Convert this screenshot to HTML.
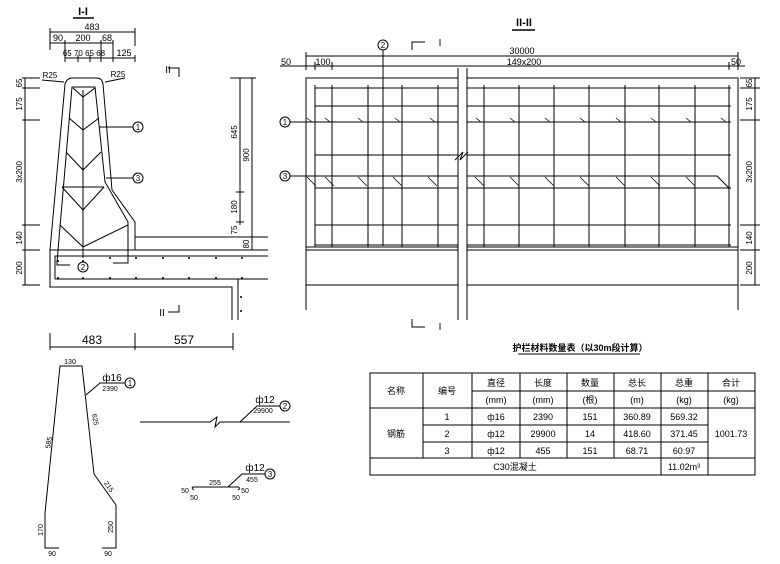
<!DOCTYPE html>
<html><head><meta charset="utf-8"><style>
html,body{margin:0;padding:0;background:#fff;}
svg{display:block;}
text{font-family:"Liberation Sans Narrow","Liberation Sans","Noto Sans CJK SC",sans-serif;fill:#000;}
</style></head><body>
<svg width="780" height="564" viewBox="0 0 780 564" xmlns="http://www.w3.org/2000/svg">
<g stroke="#000" stroke-width="1" fill="none">
<!-- ===== Section I-I ===== -->
<line x1="73" y1="18" x2="94" y2="18" stroke-width="1.5"/>
<line x1="50" y1="32" x2="135" y2="32"/><line x1="50" y1="28" x2="50" y2="50"/><line x1="135" y1="28" x2="135" y2="46"/>
<line x1="50" y1="43" x2="113" y2="43"/><line x1="65" y1="40" x2="65" y2="62"/><line x1="101" y1="40" x2="101" y2="62"/><line x1="113" y1="40" x2="113" y2="62"/>
<line x1="65" y1="58" x2="135" y2="58"/><line x1="78" y1="55" x2="78" y2="62"/><line x1="90" y1="55" x2="90" y2="62"/><line x1="135" y1="55" x2="135" y2="62"/>
<!-- concrete outline -->
<path d="M50,250 L65,84 Q67,78 72,78 L97,78 Q102,78 103,84 L112,190 L135,222 L135,250"/>
<line x1="42" y1="80" x2="64" y2="82"/><line x1="105" y1="82" x2="125" y2="78"/>
<line x1="50" y1="250" x2="268" y2="250"/>
<line x1="135" y1="237" x2="268" y2="237"/>
<path d="M50,250 L50,287 L232,287 L232,320"/>
<path d="M55,279 L55,256 L268,256"/>
<path d="M55,279 L238,279 L238,320"/>
<line x1="55" y1="279" x2="268" y2="279"/>
<!-- rebar -->
<path d="M57,262 L72,87 L95,87 L105,182 L128,222 L128,263 L113,263"/>
<path d="M57,262 L57,265 L70,265"/>
<line x1="83" y1="90" x2="83" y2="258"/>
<path d="M73,88 L83,97 L95,88"/>
<path d="M69,118 L83,130 L99,118"/>
<path d="M66,152 L83,170 L101,152"/>
<line x1="62" y1="187" x2="104" y2="187"/>
<path d="M62,187 L83,210 L104,187"/>
<path d="M60,225 L83,247 L128,225"/>
<line x1="99" y1="127" x2="133" y2="127"/>
<line x1="106" y1="178" x2="133" y2="178"/>
<circle cx="138" cy="127" r="5"/><circle cx="138" cy="178" r="5"/><circle cx="83" cy="267" r="5"/>
<!-- left dims -->
<line x1="25" y1="78" x2="25" y2="285"/>
<g><line x1="22" y1="78" x2="40" y2="78"/><line x1="22" y1="88" x2="40" y2="88"/><line x1="22" y1="120" x2="40" y2="120"/><line x1="22" y1="225" x2="40" y2="225"/><line x1="22" y1="250" x2="40" y2="250"/><line x1="22" y1="285" x2="40" y2="285"/></g>
<!-- right dims -->
<line x1="240" y1="78" x2="240" y2="225"/><line x1="252" y1="78" x2="252" y2="250"/>
<line x1="230" y1="78" x2="256" y2="78"/><line x1="236" y1="192" x2="244" y2="192"/><line x1="236" y1="222" x2="244" y2="222"/><line x1="236" y1="237" x2="256" y2="237"/>
<path d="M168,68 L179,68 L179,77"/><path d="M168,312 L179,312 L179,305"/>
<!-- ===== Section II-II ===== -->
<line x1="512" y1="30" x2="535" y2="30" stroke-width="1.5"/>
<line x1="306" y1="56" x2="738" y2="56"/>
<line x1="280" y1="66" x2="745" y2="66"/>
<line x1="306" y1="52" x2="306" y2="70"/><line x1="738" y1="52" x2="738" y2="70"/>
<line x1="315" y1="62" x2="315" y2="70"/><line x1="332" y1="62" x2="332" y2="70"/><line x1="729" y1="62" x2="729" y2="70"/>
<rect x="306" y="78" width="432" height="172"/>
<line x1="306" y1="247" x2="738" y2="247"/>
<line x1="306" y1="285" x2="738" y2="285"/>
<line x1="306" y1="250" x2="306" y2="310"/><line x1="738" y1="250" x2="738" y2="310"/>
<g>
<line x1="315" y1="88" x2="731" y2="88"/><line x1="315" y1="106" x2="731" y2="106"/><line x1="280" y1="122" x2="731" y2="122"/>
<line x1="315" y1="155" x2="731" y2="155"/><line x1="315" y1="188" x2="731" y2="188"/><line x1="315" y1="225" x2="731" y2="225"/><line x1="315" y1="245" x2="731" y2="245"/>
<path d="M280,176 L717,176 L729,188"/>
</g>
<g>
<line x1="315" y1="85" x2="315" y2="247"/><line x1="332" y1="85" x2="332" y2="247"/><line x1="368" y1="85" x2="368" y2="247"/><line x1="402" y1="85" x2="402" y2="247"/><line x1="438" y1="85" x2="438" y2="247"/>
<line x1="484" y1="85" x2="484" y2="247"/><line x1="519" y1="85" x2="519" y2="247"/><line x1="554" y1="85" x2="554" y2="247"/><line x1="589" y1="85" x2="589" y2="247"/><line x1="625" y1="85" x2="625" y2="247"/><line x1="659" y1="85" x2="659" y2="247"/><line x1="695" y1="85" x2="695" y2="247"/><line x1="729" y1="85" x2="729" y2="247"/>
</g>
<line x1="383" y1="50" x2="383" y2="246"/>
<g stroke-width="0.8">
<path d="M307,118 l5,4 M325,118 l5,4 M358,118 l5,4 M395,118 l5,4 M430,118 l5,4 M476,118 l5,4 M510,118 l5,4 M545,118 l5,4 M580,118 l5,4 M616,118 l5,4 M651,118 l5,4 M686,118 l5,4 M721,118 l5,4"/>
<path d="M307,177 l9,9 M325,177 l9,9 M358,177 l9,9 M393,177 l9,9 M428,177 l9,9 M475,177 l9,9 M510,177 l9,9 M545,177 l9,9 M580,177 l9,9 M616,177 l9,9 M651,177 l9,9 M686,177 l9,9"/>
</g>
<rect x="458" y="67" width="9" height="254" fill="#fff" stroke="none"/>
<line x1="458" y1="68" x2="458" y2="320"/><line x1="467" y1="68" x2="467" y2="320"/>
<path d="M455,160 L463,152 L460,160 L468,152" fill="none"/>
<circle cx="383" cy="45" r="5"/><circle cx="285" cy="122" r="5" fill="#fff"/><circle cx="285" cy="176" r="5" fill="#fff"/>
<path d="M412,50 L412,42 L425,42"/><path d="M412,319 L412,327 L425,327"/>
<line x1="755" y1="78" x2="755" y2="285"/>
<line x1="740" y1="78" x2="760" y2="78"/><line x1="740" y1="88" x2="760" y2="88"/><line x1="740" y1="120" x2="760" y2="120"/><line x1="740" y1="225" x2="760" y2="225"/><line x1="740" y1="250" x2="760" y2="250"/><line x1="740" y1="285" x2="760" y2="285"/>
<!-- ===== Bottom-left bar shapes ===== -->
<line x1="50" y1="347" x2="233" y2="347"/>
<line x1="50" y1="333" x2="50" y2="350"/><line x1="135" y1="333" x2="135" y2="350"/><line x1="233" y1="333" x2="233" y2="350"/>
<path d="M59,548 L45,548 L45,513 L60,366 L82,366 L94,474 L116,505 L116,548 L102,548"/>
<path d="M86,395 L100,383 L125,383"/><circle cx="130" cy="383" r="5"/>
<path d="M140,422 L210,422 L217,417 L215,427 L220,422 L290,422"/>
<path d="M240,422 L257,406 L280,406"/><circle cx="285" cy="406" r="5"/>
<path d="M194,490 Q191,488 193,487 L238,487 Q241,488 238,490"/>
<path d="M228,487 L242,474 L265,474"/><circle cx="270" cy="474" r="5"/>
<!-- ===== Table ===== -->
<line x1="518" y1="354" x2="640" y2="354"/>
<rect x="370" y="373" width="385" height="102"/>
<line x1="472" y1="391" x2="755" y2="391"/>
<line x1="370" y1="408" x2="755" y2="408"/>
<line x1="423" y1="425" x2="708" y2="425"/>
<line x1="423" y1="442" x2="708" y2="442"/>
<line x1="370" y1="458" x2="755" y2="458"/>
<line x1="423" y1="373" x2="423" y2="458"/><line x1="472" y1="373" x2="472" y2="458"/><line x1="520" y1="373" x2="520" y2="458"/><line x1="567" y1="373" x2="567" y2="458"/><line x1="614" y1="373" x2="614" y2="458"/><line x1="661" y1="373" x2="661" y2="475"/><line x1="708" y1="373" x2="708" y2="475"/>
</g>
<g fill="#000">
<circle cx="58" cy="261" r="1"/><circle cx="83" cy="261" r="1"/><circle cx="110" cy="258" r="1"/><circle cx="136" cy="258" r="1"/><circle cx="163" cy="258" r="1"/><circle cx="189" cy="258" r="1"/><circle cx="216" cy="258" r="1"/><circle cx="242" cy="258" r="1"/>
<circle cx="58" cy="278" r="1"/><circle cx="83" cy="278" r="1"/><circle cx="110" cy="278" r="1"/><circle cx="136" cy="278" r="1"/><circle cx="163" cy="278" r="1"/><circle cx="189" cy="278" r="1"/><circle cx="216" cy="278" r="1"/><circle cx="242" cy="278" r="1"/>
<circle cx="241" cy="297" r="1"/><circle cx="241" cy="311" r="1"/>
</g>
<g font-size="9" text-anchor="middle">
<text x="83" y="15" font-size="11" font-weight="bold">I-I</text>
<text x="92" y="30">483</text>
<text x="58" y="41">90</text><text x="83" y="41">200</text><text x="107" y="41">68</text>
<text x="84" y="56" font-size="8">65 70 65 68</text><text x="124" y="56">125</text>
<text x="50" y="78" font-size="8">R25</text><text x="118" y="77" font-size="8">R25</text>
<text x="168" y="73" font-size="10">II</text><text x="162" y="316" font-size="10">II</text>
<text x="138" y="130" font-size="8">1</text><text x="138" y="181" font-size="8">3</text><text x="83" y="270" font-size="8">2</text>
<g font-size="8">
<text transform="translate(22,83) rotate(-90)">65</text>
<text transform="translate(22,104) rotate(-90)">175</text>
<text transform="translate(22,172) rotate(-90)">3x200</text>
<text transform="translate(22,238) rotate(-90)">140</text>
<text transform="translate(22,268) rotate(-90)">200</text>
<text transform="translate(237,132) rotate(-90)">645</text>
<text transform="translate(249,155) rotate(-90)">900</text>
<text transform="translate(237,207) rotate(-90)">180</text>
<text transform="translate(237,230) rotate(-90)">75</text>
<text transform="translate(249,244) rotate(-90)">80</text>
<text transform="translate(752,83) rotate(-90)">65</text>
<text transform="translate(752,104) rotate(-90)">175</text>
<text transform="translate(752,172) rotate(-90)">3x200</text>
<text transform="translate(752,238) rotate(-90)">140</text>
<text transform="translate(752,268) rotate(-90)">200</text>
</g>
<text x="524" y="26" font-size="11" font-weight="bold">II-II</text>
<text x="522" y="54">30000</text><text x="524" y="65">149x200</text>
<text x="286" y="65">50</text><text x="323" y="65">100</text><text x="736" y="65">50</text>
<text x="440" y="46" font-size="10">I</text><text x="440" y="330" font-size="10">I</text>
<text x="383" y="48" font-size="8">2</text><text x="285" y="125" font-size="8">1</text><text x="285" y="179" font-size="8">3</text>
<text x="92" y="344" font-size="12">483</text><text x="184" y="344" font-size="12">557</text>
<text x="70" y="364" font-size="7">130</text>
<text x="112" y="381" font-size="10">ф16</text><text x="110" y="391" font-size="7">2390</text><text x="130" y="386" font-size="8">1</text>
<text x="265" y="403" font-size="10">ф12</text><text x="263" y="413" font-size="7">29900</text><text x="285" y="409" font-size="8">2</text>
<text x="255" y="471" font-size="10">ф12</text><text x="252" y="482" font-size="7">455</text><text x="270" y="477" font-size="8">3</text>
<text x="215" y="485" font-size="7">255</text><text x="185" y="493" font-size="7">50</text><text x="245" y="493" font-size="7">50</text><text x="194" y="500" font-size="7">50</text><text x="236" y="500" font-size="7">50</text>
<text x="52" y="556" font-size="7">90</text><text x="108" y="556" font-size="7">90</text>
<g font-size="7">
<text transform="translate(51,443) rotate(-80)">585</text>
<text transform="translate(93,420) rotate(80)">625</text>
<text transform="translate(107,488) rotate(55)">215</text>
<text transform="translate(43,530) rotate(-90)">170</text>
<text transform="translate(113,527) rotate(-90)">250</text>
</g>
<text x="580" y="351" font-size="9" font-weight="bold">护栏材料数量表（以30m段计算）</text>
<g font-size="9">
<text x="396" y="394">名称</text><text x="447" y="394">编号</text>
<text x="496" y="386">直径</text><text x="543" y="386">长度</text><text x="590" y="386">数量</text><text x="637" y="386">总长</text><text x="684" y="386">总重</text><text x="731" y="386">合计</text>
<text x="496" y="403">(mm)</text><text x="543" y="403">(mm)</text><text x="590" y="403">(根)</text><text x="637" y="403">(m)</text><text x="684" y="403">(kg)</text><text x="731" y="403">(kg)</text>
<text x="396" y="437">钢筋</text>
<text x="447" y="420">1</text><text x="447" y="437">2</text><text x="447" y="454">3</text>
<text x="496" y="420">ф16</text><text x="496" y="437">ф12</text><text x="496" y="454">ф12</text>
<text x="543" y="420">2390</text><text x="543" y="437">29900</text><text x="543" y="454">455</text>
<text x="590" y="420">151</text><text x="590" y="437">14</text><text x="590" y="454">151</text>
<text x="637" y="420">360.89</text><text x="637" y="437">418.60</text><text x="637" y="454">68.71</text>
<text x="684" y="420">569.32</text><text x="684" y="437">371.45</text><text x="684" y="454">60.97</text>
<text x="731" y="437">1001.73</text>
<text x="515" y="470">C30混凝土</text><text x="684" y="470">11.02m³</text>
</g>
</g>
</svg>
</body></html>
